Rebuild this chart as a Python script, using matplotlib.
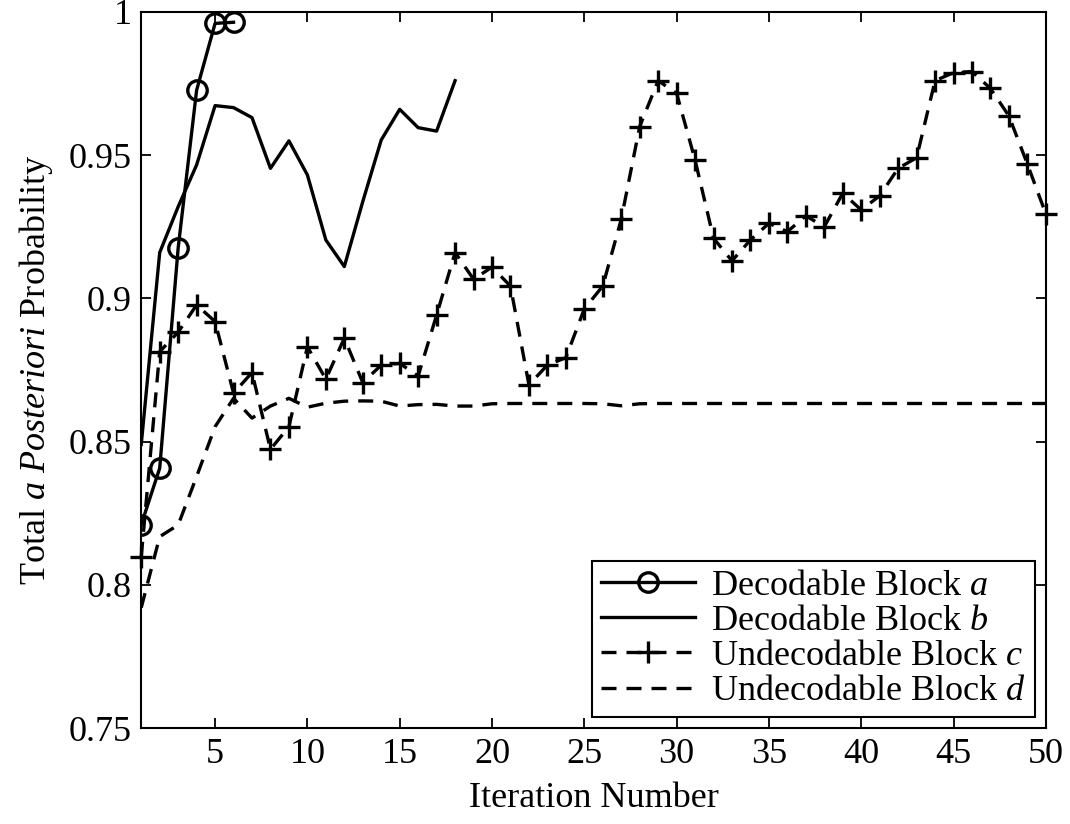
import matplotlib
matplotlib.use("Agg")
import matplotlib.pyplot as plt
import numpy as np

# font setup: Times-like serif with italic math letters
plt.rcParams['font.family'] = ['Liberation Serif', 'DejaVu Serif']
plt.rcParams['mathtext.fontset'] = 'custom'
plt.rcParams['mathtext.rm'] = 'Liberation Serif'
plt.rcParams['mathtext.it'] = 'Liberation Serif:italic'
plt.rcParams['font.size'] = 26

# data
iter_a = [1, 2, 3, 4, 5, 6]
block_a = [0.821, 0.8407, 0.9176, 0.9727, 0.996, 0.9964]

iter_b = list(range(1, 19))
block_b = [0.849, 0.916, 0.932, 0.9466, 0.9673, 0.9666, 0.9631, 0.9454, 0.955,
           0.9431, 0.9204, 0.9111, 0.9338, 0.9553, 0.966, 0.9596, 0.9584, 0.976]

iter_c = list(range(1, 51))
block_c = [0.8098, 0.8814, 0.8882, 0.8977, 0.8919, 0.8669, 0.8741, 0.8473, 0.8552, 0.8831,
           0.8718, 0.8861, 0.8706, 0.8767, 0.8773, 0.8729, 0.8942, 0.916, 0.9067, 0.9109,
           0.9043, 0.8698, 0.8767, 0.8793, 0.8963, 0.9043, 0.9276, 0.96, 0.976, 0.9716,
           0.9483, 0.921, 0.9131, 0.9204, 0.9262, 0.9233, 0.9288, 0.925, 0.9367, 0.9309,
           0.9358, 0.9454, 0.9491, 0.976, 0.9788, 0.9792, 0.9733, 0.9637, 0.9469, 0.9295]

iter_d = list(range(1, 51))
block_d = [0.792, 0.8168, 0.8209, 0.8378, 0.8552, 0.8651, 0.8582, 0.8624, 0.8651, 0.862,
           0.8634, 0.8641, 0.8642, 0.8641, 0.8624, 0.8629, 0.863, 0.8624, 0.8624, 0.8632,
           0.8633, 0.8633, 0.8633, 0.8633, 0.8633, 0.8632, 0.8625, 0.8632, 0.8633, 0.8633,
           0.8633, 0.8633, 0.8633, 0.8633, 0.8633, 0.8633, 0.8633, 0.8633, 0.8633, 0.8633,
           0.8633, 0.8633, 0.8633, 0.8633, 0.8633, 0.8633, 0.8633, 0.8633, 0.8633, 0.8633]

x_ticks = [5, 10, 15, 20, 25, 30, 35, 40, 45, 50]
y_ticks = [0.75, 0.8, 0.85, 0.9, 0.95, 1.0]
y_tick_labels = ['0.75', '0.8', '0.85', '0.9', '0.95', '1']

fig = plt.figure(figsize=(10.7, 8.24), dpi=100)
ax = fig.add_axes([0.132, 0.1165, 0.8454, 0.869])

lw = 2.4
dash = (4.5, 3)
ax.plot(iter_a, block_a, color='black', lw=lw, marker='o', markersize=14,
        markerfacecolor='none', markeredgewidth=lw, label='Decodable Block $a$')
ax.plot(iter_b, block_b, color='black', lw=lw, label='Decodable Block $b$')
ax.plot(iter_c, block_c, color='black', lw=lw, dashes=dash, marker='+', markersize=16,
        markeredgewidth=lw, label='Undecodable Block $c$', clip_on=False)
ax.plot(iter_d, block_d, color='black', lw=lw, dashes=dash, label='Undecodable Block $d$')

ax.set_xlim(1, 50)
ax.set_ylim(0.75, 1.0)
ax.set_xticks(x_ticks)
ax.set_yticks(y_ticks)
ax.set_yticklabels(y_tick_labels)
ax.tick_params(direction='in', length=7, width=1.3, top=True, right=True, pad=7)
for s in ax.spines.values():
    s.set_linewidth(1.5)

ax.set_xlabel('Iteration Number', labelpad=8)
ax.set_ylabel('Total $a$ $Posteriori$ Probability', labelpad=10)

leg = ax.legend(loc='lower right', fancybox=False, edgecolor='black', framealpha=1,
                handlelength=2.6, borderaxespad=0.3, labelspacing=0.05,
                handletextpad=0.45, borderpad=0.25)
leg.get_frame().set_linewidth(1.5)

plt.savefig('out.png', dpi=100)
